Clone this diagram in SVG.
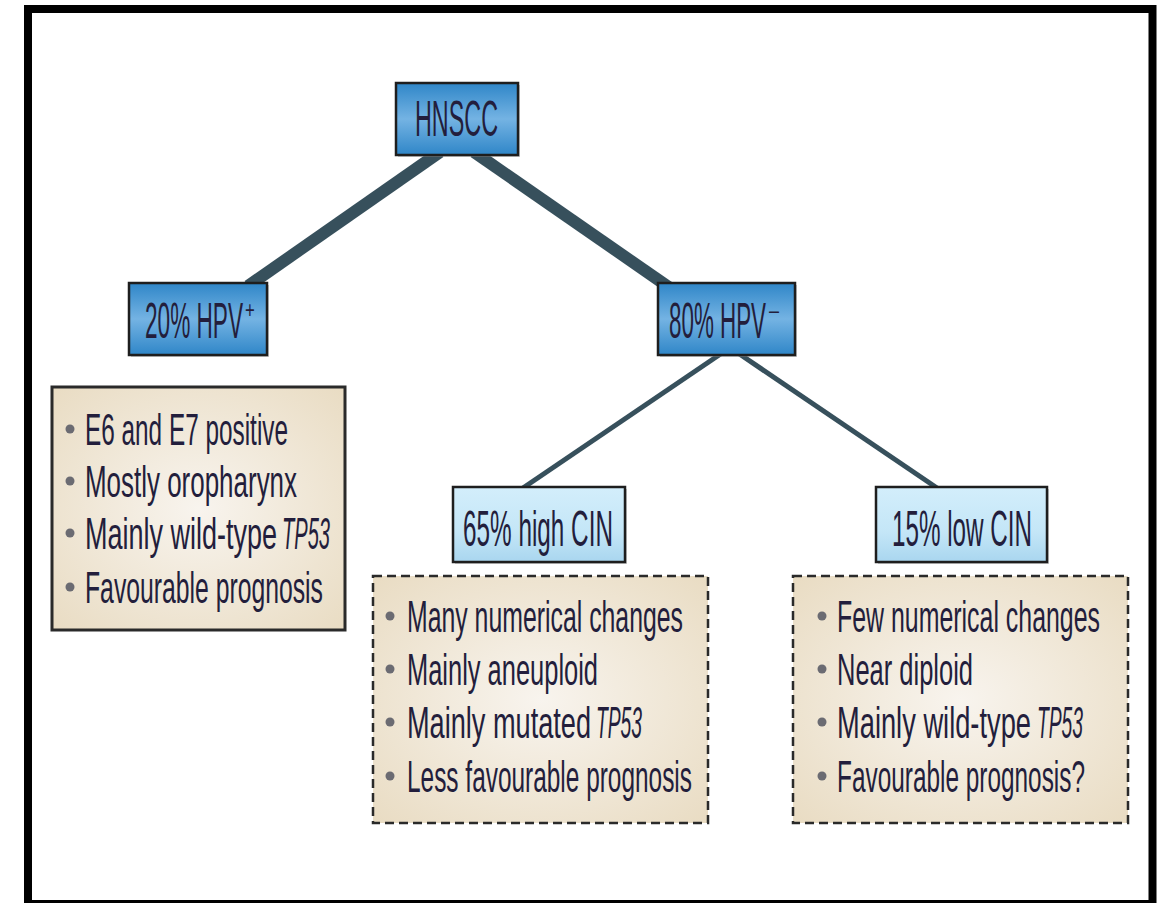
<svg xmlns="http://www.w3.org/2000/svg" width="1163" height="903" viewBox="0 0 1163 903">
<defs>
<linearGradient id="blue" x1="0" y1="0" x2="0" y2="1">
<stop offset="0" stop-color="#2f86c8"/>
<stop offset="0.5" stop-color="#74b3e3"/>
<stop offset="1" stop-color="#2f86c8"/>
</linearGradient>
<linearGradient id="lblue" x1="0" y1="0" x2="0" y2="1">
<stop offset="0" stop-color="#d3eefb"/>
<stop offset="0.6" stop-color="#c4e6f7"/>
<stop offset="1" stop-color="#a9d6ef"/>
</linearGradient>
<radialGradient id="beige" cx="0.5" cy="0.5" r="0.7">
<stop offset="0" stop-color="#f8f4ee"/>
<stop offset="1" stop-color="#e9dcc3"/>
</radialGradient>
</defs>
<style>
.frame{fill:none;stroke:#000;stroke-width:8}
.shadow{fill:#9a9a9a;opacity:0.5}
.bnode{fill:url(#blue);stroke:#1e1e1e;stroke-width:2.5}
.lnode{fill:url(#lblue);stroke:#1e1e1e;stroke-width:2.5}
.info{fill:url(#beige);stroke:#2a2a2a;stroke-width:3}
.dinfo{fill:url(#beige);stroke:#2a2a2a;stroke-width:2.5;stroke-dasharray:9 5}
.lbl{font-family:"Liberation Sans",Arial,sans-serif;font-size:50px;fill:#231e3c}
.sup{font-family:"Liberation Sans",Arial,sans-serif;font-size:24px;fill:#231e3c}
.item{font-family:"Liberation Sans",Arial,sans-serif;font-size:44px;fill:#231e3c}
.it{font-style:italic}
.bul{fill:#6b6b72}
.thick{stroke:#37505c;stroke-width:12;stroke-linecap:butt}
.thin{stroke:#37505c;stroke-width:5;stroke-linecap:butt}
</style>
<rect x="0" y="0" width="1163" height="903" fill="#fff"/>
<rect class="frame" x="28" y="9" width="1124.5" height="895"/>
<g id="connectors">
<line class="thick" x1="440" y1="152" x2="248" y2="286"/>
<line class="thick" x1="474" y1="152" x2="670" y2="288"/>
<line class="thin" x1="722" y1="353" x2="520" y2="490"/>
<line class="thin" x1="738" y1="353" x2="940" y2="490"/>
</g>
<g id="hnscc">
<rect class="shadow" x="398" y="85" width="122" height="72"/>
<rect class="bnode" x="396" y="83" width="122" height="72"/>
<text class="lbl" transform="translate(415,136) scale(0.47,1)" x="0" y="0" textLength="176.6" lengthAdjust="spacingAndGlyphs">HNSCC</text>
</g>
<g id="hpvpos">
<rect class="shadow" x="131" y="285" width="138" height="72"/>
<rect class="bnode" x="129" y="283" width="138" height="72"/>
<text class="lbl" transform="translate(145,338) scale(0.47,1)" x="0" y="0" textLength="208.5" lengthAdjust="spacingAndGlyphs">20% HPV</text>
<text class="sup" transform="translate(245,318) scale(0.7,1)" x="0" y="0">+</text>
</g>
<g id="hpvneg">
<rect class="shadow" x="660" y="285" width="137" height="72"/>
<rect class="bnode" x="658" y="283" width="137" height="72"/>
<text class="lbl" transform="translate(669,338) scale(0.47,1)" x="0" y="0" textLength="206.4" lengthAdjust="spacingAndGlyphs">80% HPV</text>
<text class="sup" transform="translate(769,318) scale(0.75,1)" x="0" y="0">–</text>
</g>
<g id="hpvpos-info">
<rect class="info" x="52" y="387" width="293" height="243"/>
<circle class="bul" cx="70" cy="429" r="4.5"/>
<text class="item" transform="translate(85,445) scale(0.56,1)" x="0" y="0" textLength="362.5" lengthAdjust="spacingAndGlyphs">E6 and E7 positive</text>
<circle class="bul" cx="70" cy="481" r="4.5"/>
<text class="item" transform="translate(85,497) scale(0.56,1)" x="0" y="0" textLength="378.6" lengthAdjust="spacingAndGlyphs">Mostly oropharynx</text>
<circle class="bul" cx="70" cy="533" r="4.5"/>
<text class="item" transform="translate(85,549) scale(0.56,1)" x="0" y="0" textLength="342.9" lengthAdjust="spacingAndGlyphs">Mainly wild-type</text>
<text class="item it" transform="translate(282,549) scale(0.44,1)" x="0" y="0" textLength="109" lengthAdjust="spacingAndGlyphs">TP53</text>
<circle class="bul" cx="70" cy="587" r="4.5"/>
<text class="item" transform="translate(85,603) scale(0.56,1)" x="0" y="0" textLength="425" lengthAdjust="spacingAndGlyphs">Favourable prognosis</text>
</g>
<g id="highcin">
<rect class="shadow" x="455" y="489" width="172" height="75"/>
<rect class="lnode" x="453" y="487" width="172" height="75"/>
<text class="lbl" transform="translate(463,546) scale(0.47,1)" x="0" y="0" textLength="319.1" lengthAdjust="spacingAndGlyphs">65% high CIN</text>
</g>
<g id="lowcin">
<rect class="shadow" x="878" y="489" width="171" height="75"/>
<rect class="lnode" x="876" y="487" width="171" height="75"/>
<text class="lbl" transform="translate(892,546) scale(0.47,1)" x="0" y="0" textLength="297.9" lengthAdjust="spacingAndGlyphs">15% low CIN</text>
</g>
<g id="highcin-info">
<rect class="dinfo" x="373" y="576" width="335" height="247"/>
<circle class="bul" cx="390" cy="616" r="4.5"/>
<text class="item" transform="translate(407,632) scale(0.56,1)" x="0" y="0" textLength="492.9" lengthAdjust="spacingAndGlyphs">Many numerical changes</text>
<circle class="bul" cx="390" cy="669" r="4.5"/>
<text class="item" transform="translate(407,685) scale(0.56,1)" x="0" y="0" textLength="341.1" lengthAdjust="spacingAndGlyphs">Mainly aneuploid</text>
<circle class="bul" cx="390" cy="722" r="4.5"/>
<text class="item" transform="translate(407,738) scale(0.56,1)" x="0" y="0" textLength="328.6" lengthAdjust="spacingAndGlyphs">Mainly mutated</text>
<text class="item it" transform="translate(596,738) scale(0.44,1)" x="0" y="0" textLength="104.5" lengthAdjust="spacingAndGlyphs">TP53</text>
<circle class="bul" cx="390" cy="776" r="4.5"/>
<text class="item" transform="translate(407,792) scale(0.56,1)" x="0" y="0" textLength="508.9" lengthAdjust="spacingAndGlyphs">Less favourable prognosis</text>
</g>
<g id="lowcin-info">
<rect class="dinfo" x="793" y="576" width="335" height="247"/>
<circle class="bul" cx="822" cy="616" r="4.5"/>
<text class="item" transform="translate(837,632) scale(0.56,1)" x="0" y="0" textLength="469.6" lengthAdjust="spacingAndGlyphs">Few numerical changes</text>
<circle class="bul" cx="822" cy="669" r="4.5"/>
<text class="item" transform="translate(837,685) scale(0.56,1)" x="0" y="0" textLength="242.9" lengthAdjust="spacingAndGlyphs">Near diploid</text>
<circle class="bul" cx="822" cy="722" r="4.5"/>
<text class="item" transform="translate(837,738) scale(0.56,1)" x="0" y="0" textLength="346.4" lengthAdjust="spacingAndGlyphs">Mainly wild-type</text>
<text class="item it" transform="translate(1037,738) scale(0.44,1)" x="0" y="0" textLength="104.5" lengthAdjust="spacingAndGlyphs">TP53</text>
<circle class="bul" cx="822" cy="776" r="4.5"/>
<text class="item" transform="translate(837,792) scale(0.56,1)" x="0" y="0" textLength="442.9" lengthAdjust="spacingAndGlyphs">Favourable prognosis?</text>
</g>
</svg>
